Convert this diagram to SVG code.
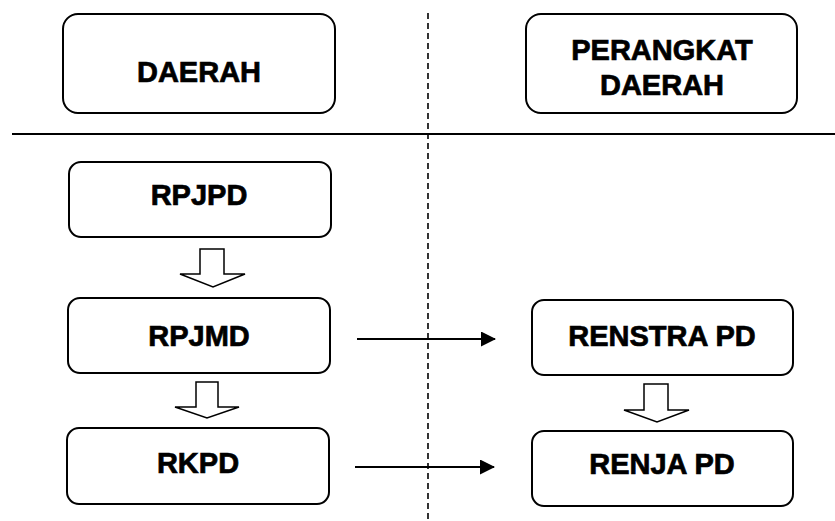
<svg xmlns="http://www.w3.org/2000/svg" width="835" height="521" viewBox="0 0 835 521">
<defs>
<style>
.box{fill:#fff;stroke:#000;stroke-width:2}
.lbl{font-family:"Liberation Sans",Arial,sans-serif;font-weight:bold;font-size:29px;fill:#000;stroke:#000;stroke-width:0.7;text-anchor:middle}
.blk{fill:#fff;stroke:#000;stroke-width:1.5;stroke-linejoin:miter}
.conn{stroke:#000;stroke-width:2;fill:none}
</style>
<marker id="ah" markerWidth="15" markerHeight="15" refX="14" refY="7.5" orient="auto" markerUnits="userSpaceOnUse">
<path d="M0,0 L15,7.5 L0,15 Z" fill="#000"/>
</marker>
</defs>
<rect width="835" height="521" fill="#fff"/>
<g id="dividers">
<line x1="12" y1="134" x2="835" y2="134" stroke="#000" stroke-width="2.2"/>
<line x1="428" y1="13" x2="428" y2="521" stroke="#000" stroke-width="1.6" stroke-dasharray="6,4"/>
</g>
<g id="n-daerah"><rect class="box" x="63" y="14" width="272" height="99" rx="15"/><text class="lbl" x="199" y="82">DAERAH</text></g>
<g id="n-perangkat"><rect class="box" x="526" y="14" width="271" height="99" rx="15"/><text class="lbl" x="662" y="60">PERANGKAT</text><text class="lbl" x="662" y="95">DAERAH</text></g>
<g id="n-rpjpd"><rect class="box" x="69" y="162" width="262" height="75" rx="12"/><text class="lbl" x="199" y="205">RPJPD</text></g>
<g id="n-rpjmd"><rect class="box" x="68" y="298" width="262" height="75" rx="12"/><text class="lbl" x="199" y="346">RPJMD</text></g>
<g id="n-rkpd"><rect class="box" x="67" y="428" width="262" height="76" rx="12"/><text class="lbl" x="198" y="473">RKPD</text></g>
<g id="n-renstra"><rect class="box" x="532" y="300" width="261" height="75" rx="12"/><text class="lbl" x="662" y="346">RENSTRA PD</text></g>
<g id="n-renja"><rect class="box" x="532" y="431" width="261" height="75" rx="12"/><text class="lbl" x="662" y="474">RENJA PD</text></g>
<g id="connectors">
<path class="blk" d="M200,249 H224 V274 H245 L213,287 L180,274 H200 Z"/>
<path class="blk" d="M196,382 H218 V407 H239 L207,418 L175,407 H196 Z"/>
<path class="blk" d="M644,384 H668 V410 H689 L657,422 L624,410 H644 Z"/>
<line class="conn" x1="357" y1="339" x2="495" y2="339" marker-end="url(#ah)"/>
<line class="conn" x1="355" y1="467" x2="494" y2="467" marker-end="url(#ah)"/>
</g>
</svg>
